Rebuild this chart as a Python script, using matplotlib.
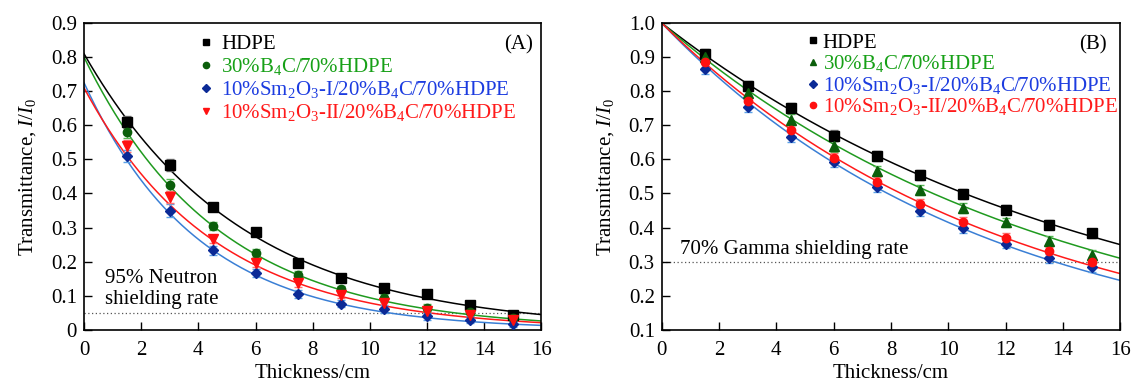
import numpy as np
import matplotlib
matplotlib.use("Agg")
import matplotlib.pyplot as plt
from matplotlib.lines import Line2D
from matplotlib.ticker import FuncFormatter, MultipleLocator

plt.rcParams['font.family'] = 'Liberation Serif'
plt.rcParams['mathtext.fontset'] = 'custom'
plt.rcParams['mathtext.rm'] = 'Liberation Serif'
plt.rcParams['mathtext.it'] = 'Liberation Serif:italic'

FS = 15

# thickness (cm)
thickness = [1.5, 3.0, 4.5, 6.0, 7.5, 9.0, 10.5, 12.0, 13.5, 15.0]

labels = ['HDPE', r'30%B$_4$C/70%HDPE',
          r'10%Sm$_2$O$_3$-I/20%B$_4$C/70%HDPE',
          r'10%Sm$_2$O$_3$-II/20%B$_4$C/70%HDPE']

# (A) neutron transmittance
neu_hdpe = [0.610, 0.483, 0.360, 0.287, 0.195, 0.152, 0.122, 0.106, 0.072, 0.045]
neu_b4c = [0.580, 0.424, 0.304, 0.225, 0.162, 0.120, 0.093, 0.065, 0.052, 0.035]
neu_sm1 = [0.510, 0.350, 0.233, 0.167, 0.104, 0.077, 0.060, 0.040, 0.030, 0.017]
neu_sm2 = [0.540, 0.390, 0.267, 0.197, 0.138, 0.102, 0.080, 0.055, 0.043, 0.028]
neu_err = [0.018, 0.018, 0.012, 0.012, 0.012, 0.010, 0.012, 0.010, 0.010, 0.008]
# fitted I0 and attenuation coefficient (1/cm)
neu_fit_a = [0.81, 0.80, 0.725, 0.71]
neu_fit_mu = [0.181, 0.214, 0.251, 0.220]

# (B) gamma transmittance
gam_hdpe = [0.910, 0.815, 0.750, 0.670, 0.610, 0.555, 0.498, 0.453, 0.408, 0.383]
gam_b4c = [0.900, 0.795, 0.717, 0.638, 0.567, 0.510, 0.457, 0.415, 0.362, 0.320]
gam_sm1 = [0.865, 0.755, 0.667, 0.592, 0.518, 0.448, 0.400, 0.352, 0.310, 0.283]
gam_sm2 = [0.885, 0.772, 0.685, 0.603, 0.533, 0.470, 0.417, 0.370, 0.330, 0.300]
gam_err = [0.015, 0.015, 0.015, 0.015, 0.015, 0.015, 0.015, 0.013, 0.013, 0.013]
gam_fit_a = [1.0, 1.0, 1.0, 1.0]
gam_fit_mu = [0.0656, 0.0732, 0.0879, 0.0830]

marker_colors = ['black', '#0b5e0b', '#0b2a96', '#ff1010']
err_colors = ['#777777', '#55b855', '#5aa0e6', '#ff7070']
line_colors = ['black', '#1f9a1f', '#3a7fd5', '#ff1a1a']
text_colors = ['black', '#16a016', '#1c3ce0', '#ff1a1a']
marker_sizes = {'s': 6.5, 'o': 6, 'D': 5, 'v': 6.5, '^': 6.5}


def fmt_y(v, pos):
    return '0' if abs(v) < 1e-9 else '%.1f' % v


def panel(ax, series, fit_a, fit_mu, err, markers, ylim):
    xs = np.linspace(0, 16, 300)
    for i, ys in enumerate(series):
        ax.plot(xs, fit_a[i] * np.exp(-fit_mu[i] * xs), color=line_colors[i], lw=1.1, zorder=2)
        ax.errorbar(thickness, ys, yerr=err, fmt='none', ecolor=err_colors[i],
                    elinewidth=1.0, capsize=3, zorder=3)
        ax.plot(thickness, ys, linestyle='none', marker=markers[i], color=marker_colors[i],
                markersize=marker_sizes[markers[i]], zorder=4)
    ax.set_xlim(0, 16)
    ax.set_ylim(*ylim)
    ax.xaxis.set_major_locator(MultipleLocator(2))
    ax.yaxis.set_major_locator(MultipleLocator(0.1))
    ax.yaxis.set_major_formatter(FuncFormatter(fmt_y))
    ax.tick_params(direction='in', length=6, width=1.0, labelsize=FS, top=False, right=False)
    ax.tick_params(axis='y', pad=5)
    ax.tick_params(axis='x', pad=8)
    for s in ax.spines.values():
        s.set_linewidth(1.2)
    ax.set_xlabel('Thickness/cm', fontsize=FS, labelpad=3)
    ax.set_ylabel(r'Transmittance, $\mathit{I}/\mathit{I}_0$', fontsize=FS, labelpad=9)


fig = plt.figure(figsize=(11.35, 3.84), dpi=100)
ax1 = fig.add_axes([0.074, 0.141, 0.403, 0.799])
ax2 = fig.add_axes([0.583, 0.141, 0.404, 0.799])

panel(ax1, [neu_hdpe, neu_b4c, neu_sm1, neu_sm2], neu_fit_a, neu_fit_mu, neu_err,
      ['s', 'o', 'D', 'v'], (0, 0.9))
panel(ax2, [gam_hdpe, gam_b4c, gam_sm1, gam_sm2], gam_fit_a, gam_fit_mu, gam_err,
      ['s', '^', 'D', 'o'], (0.1, 1.0))

ax1.axhline(0.05, color='#555555', lw=0.9, ls=(0, (1, 2)), zorder=1)
ax2.axhline(0.30, color='#555555', lw=0.9, ls=(0, (1, 2)), zorder=1)
ax1.text(0.74, 0.12, '95% Neutron\nshielding rate', fontsize=FS, va='center', ha='left',
         linespacing=1.1)
ax2.text(0.63, 0.335, '70% Gamma shielding rate', fontsize=FS, va='center', ha='left')
ax1.text(0.982, 0.93, '(A)', transform=ax1.transAxes, fontsize=FS, ha='right', va='center')
ax2.text(0.97, 0.93, '(B)', transform=ax2.transAxes, fontsize=FS, ha='right', va='center')

for ax, markers, anchor, tpad, lsp in [(ax1, ['s', 'o', 'D', 'v'], (0.217, 1.01), 0.32, 0.1),
                                       (ax2, ['s', '^', 'D', 'o'], (0.281, 1.015), 0.05, 0.03)]:
    handles = [Line2D([], [], linestyle='none', marker=m, color=c, markersize=4.5)
               for m, c in zip(markers, marker_colors)]
    ax.legend(handles, labels, loc='upper left', bbox_to_anchor=anchor, frameon=False,
              fontsize=FS, handlelength=0.8, handletextpad=tpad, labelspacing=lsp,
              labelcolor=text_colors, borderaxespad=0.3)

fig.savefig('out.png', dpi=100)
